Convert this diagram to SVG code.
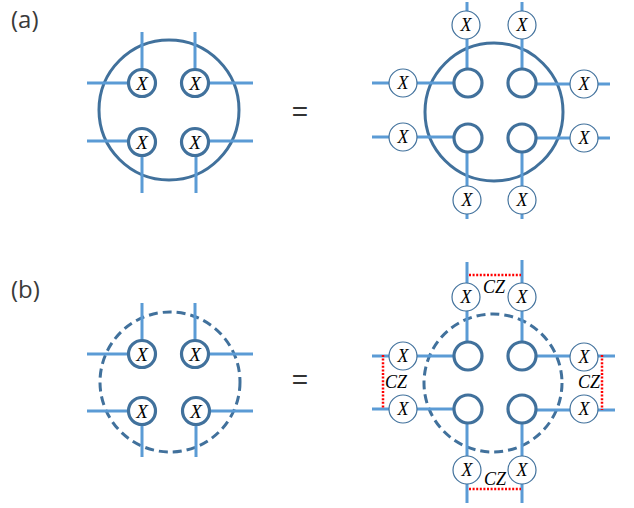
<svg xmlns="http://www.w3.org/2000/svg" width="634" height="508" viewBox="0 0 634 508">
<style>
.big{fill:none;stroke:#41719c;stroke-width:3}
.bigd{fill:none;stroke:#41719c;stroke-width:3;stroke-dasharray:9 5}
.wire{stroke:#5b9bd5;stroke-width:3;fill:none}
.site{fill:#fff;stroke:#41719c;stroke-width:3.2}
.xg{fill:#fff;stroke:#41719c;stroke-width:1.2}
.cz{stroke:#ff0000;stroke-width:2.5;stroke-dasharray:2 1.6;fill:none}
.lbl{font-family:"Liberation Serif",serif;font-style:italic;font-size:19px;text-anchor:middle;fill:#000}
.lbs{font-family:"Liberation Serif",serif;font-style:italic;font-size:18px;text-anchor:middle;fill:#000}
.pl{font-family:"Open Sans","Liberation Sans",sans-serif;font-size:24px;fill:#3a3a3a}
.eq{font-family:"Liberation Sans",sans-serif;font-size:28px;fill:#333;text-anchor:middle}
</style>
<defs>
<circle id="xc" r="14" class="xg"/>
</defs>
<text class="pl" x="11" y="28">(a)</text>
<text class="pl" x="11" y="298">(b)</text>
<text class="eq" x="300" y="121">=</text>
<text class="eq" x="300" y="389">=</text>

<!-- Panel (a) left -->
<g id="a-left-tensor"><circle class="big" cx="169" cy="110" r="70"/></g>
<g id="a-left-wires" class="wire">
<path d="M142 32V83H87M195 32V83H253M87 141H142V193M253 141H196V193"/>
</g>
<g id="a-left-x1"><circle class="site" cx="142" cy="83" r="13.5"/><text class="lbl" x="142" y="89.5">X</text></g>
<g id="a-left-x2"><circle class="site" cx="195" cy="83" r="13.5"/><text class="lbl" x="195" y="89.5">X</text></g>
<g id="a-left-x3"><circle class="site" cx="142" cy="142" r="13.5"/><text class="lbl" x="142" y="148.5">X</text></g>
<g id="a-left-x4"><circle class="site" cx="195" cy="142" r="13.5"/><text class="lbl" x="195" y="148.5">X</text></g>

<!-- Panel (a) right -->
<g id="a-right-tensor"><circle class="big" cx="494" cy="112" r="69"/></g>
<g id="a-right-wires" class="wire">
<path d="M467 2V83H372M522 2V83M522 84H610M372 137H468M522 138H610M467 138V219M522 138V219"/>
</g>
<g id="a-right-s1"><circle class="site" cx="468" cy="83" r="14"/></g>
<g id="a-right-s2"><circle class="site" cx="522" cy="83" r="14"/></g>
<g id="a-right-s3"><circle class="site" cx="468" cy="138" r="14"/></g>
<g id="a-right-s4"><circle class="site" cx="522" cy="138" r="14"/></g>
<g id="a-right-xt1"><use href="#xc" x="466" y="25"/><text class="lbs" x="466" y="31">X</text></g>
<g id="a-right-xt2"><use href="#xc" x="522" y="25"/><text class="lbs" x="522" y="31">X</text></g>
<g id="a-right-xl1"><use href="#xc" x="403" y="83"/><text class="lbs" x="403" y="89">X</text></g>
<g id="a-right-xl2"><use href="#xc" x="403" y="137"/><text class="lbs" x="403" y="143">X</text></g>
<g id="a-right-xr1"><use href="#xc" x="584" y="84"/><text class="lbs" x="584" y="90">X</text></g>
<g id="a-right-xr2"><use href="#xc" x="584" y="138"/><text class="lbs" x="584" y="144">X</text></g>
<g id="a-right-xb1"><use href="#xc" x="467" y="200"/><text class="lbs" x="467" y="206">X</text></g>
<g id="a-right-xb2"><use href="#xc" x="522" y="200"/><text class="lbs" x="522" y="206">X</text></g>

<!-- Panel (b) left -->
<g id="b-left-tensor"><circle class="bigd" cx="170" cy="382" r="70"/></g>
<g id="b-left-wires" class="wire">
<path d="M142 303V354H87M195 303V354H253M87 411H142V457M253 411H196V457"/>
</g>
<g id="b-left-x1"><circle class="site" cx="142" cy="354" r="13.5"/><text class="lbl" x="142" y="360.5">X</text></g>
<g id="b-left-x2"><circle class="site" cx="195" cy="354" r="13.5"/><text class="lbl" x="195" y="360.5">X</text></g>
<g id="b-left-x3"><circle class="site" cx="142" cy="411" r="13.5"/><text class="lbl" x="142" y="417.5">X</text></g>
<g id="b-left-x4"><circle class="site" cx="196" cy="411" r="13.5"/><text class="lbl" x="196" y="417.5">X</text></g>

<!-- Panel (b) right -->
<g id="b-right-tensor"><circle class="bigd" cx="493" cy="383" r="69"/></g>
<g id="b-right-wires">
<path class="wire" d="M467 262V356H372M522 260V356M522 356H615M372 409H468M522 410H615M467 409V503M522 409V503"/>
<path class="cz" d="M469 275H521M469 489H521M383 355V409M602 355V410"/>
</g>
<g id="b-right-s1"><circle class="site" cx="468" cy="356" r="14"/></g>
<g id="b-right-s2"><circle class="site" cx="522" cy="356" r="14"/></g>
<g id="b-right-s3"><circle class="site" cx="468" cy="409" r="14"/></g>
<g id="b-right-s4"><circle class="site" cx="522" cy="409" r="14"/></g>
<g id="b-right-xt1"><use href="#xc" x="466" y="297"/><text class="lbs" x="466" y="303">X</text></g>
<g id="b-right-xt2"><use href="#xc" x="522" y="297"/><text class="lbs" x="522" y="303">X</text></g>
<g id="b-right-xl1"><use href="#xc" x="403" y="356"/><text class="lbs" x="403" y="362">X</text></g>
<g id="b-right-xl2"><use href="#xc" x="403" y="409"/><text class="lbs" x="403" y="415">X</text></g>
<g id="b-right-xr1"><use href="#xc" x="584" y="357"/><text class="lbs" x="584" y="363">X</text></g>
<g id="b-right-xr2"><use href="#xc" x="584" y="409"/><text class="lbs" x="584" y="415">X</text></g>
<g id="b-right-xb1"><use href="#xc" x="467" y="470"/><text class="lbs" x="467" y="476">X</text></g>
<g id="b-right-xb2"><use href="#xc" x="522" y="470"/><text class="lbs" x="522" y="476">X</text></g>
<g id="b-right-cz-labels">
<text class="lbs" x="494" y="293">CZ</text>
<text class="lbs" x="396" y="388">CZ</text>
<text class="lbs" x="589" y="388">CZ</text>
<text class="lbs" x="495" y="485">CZ</text>
</g>
</svg>
